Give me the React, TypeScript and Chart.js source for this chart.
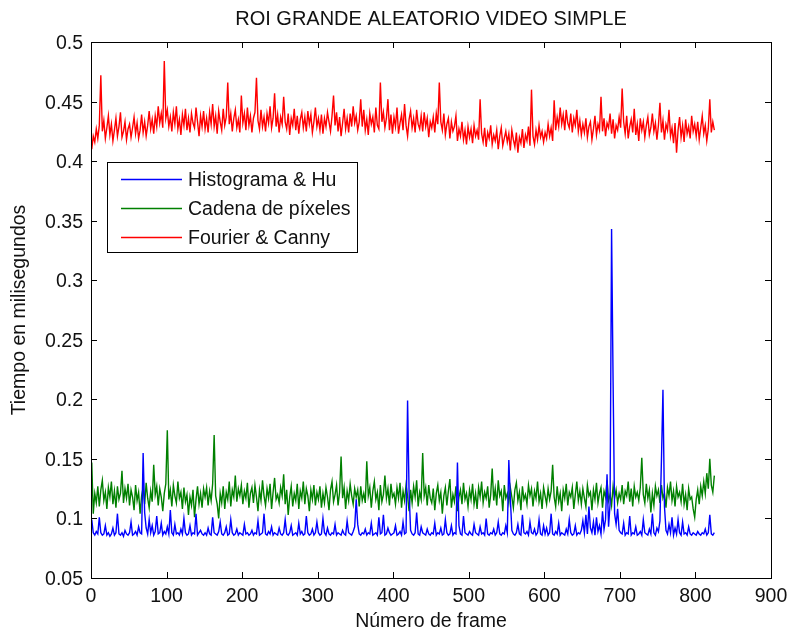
import React, { useEffect, useRef } from "react";
import { Chart, registerables } from "chart.js";

Chart.register(...registerables);

const titleText = "ROI GRANDE ALEATORIO VIDEO SIMPLE";
const xTitle = "Número de frame";
const yTitle = "Tiempo en milisegundos";
const seriesNames = ["Histograma & Hu", "Cadena de píxeles", "Fourier & Canny"];
const seriesColors = ["#0000FF", "#008000", "#FF0000"];

const frames = [
  1,3,5,7,9,11,13,15,17,19,21,23,25,27,29,31,33,35,37,39,41,43,45,47,49,
  51,53,55,57,59,61,63,65,67,69,71,73,75,77,79,81,83,85,87,89,91,93,95,97,99,
  101,103,105,107,109,111,113,115,117,119,121,123,125,127,129,131,133,135,137,139,141,143,145,147,149,
  151,153,155,157,159,161,163,165,167,169,171,173,175,177,179,181,183,185,187,189,191,193,195,197,199,
  201,203,205,207,209,211,213,215,217,219,221,223,225,227,229,231,233,235,237,239,241,243,245,247,249,
  251,253,255,257,259,261,263,265,267,269,271,273,275,277,279,281,283,285,287,289,291,293,295,297,299,
  301,303,305,307,309,311,313,315,317,319,321,323,325,327,329,331,333,335,337,339,341,343,345,347,349,
  351,353,355,357,359,361,363,365,367,369,371,373,375,377,379,381,383,385,387,389,391,393,395,397,399,
  401,403,405,407,409,411,413,415,417,419,421,423,425,427,429,431,433,435,437,439,441,443,445,447,449,
  451,453,455,457,459,461,463,465,467,469,471,473,475,477,479,481,483,485,487,489,491,493,495,497,499,
  501,503,505,507,509,511,513,515,517,519,521,523,525,527,529,531,533,535,537,539,541,543,545,547,549,
  551,553,555,557,559,561,563,565,567,569,571,573,575,577,579,581,583,585,587,589,591,593,595,597,599,
  601,603,605,607,609,611,613,615,617,619,621,623,625,627,629,631,633,635,637,639,641,643,645,647,649,
  651,653,655,657,659,661,663,665,667,669,671,673,675,677,679,681,683,685,687,689,691,693,695,697,699,
  701,703,705,707,709,711,713,715,717,719,721,723,725,727,729,731,733,735,737,739,741,743,745,747,749,
  751,753,755,757,759,761,763,765,767,769,771,773,775,777,779,781,783,785,787,789,791,793,795,797,799,
  801,803,805,807,809,811,813,815,817,819,821,823,825
];

const histogramaHu = [
  .099,.088,.086,.089,.087,.101,.088,.086,.087,.094,.086,.088,.085,.087,.092,.086,.088,.104,.087,.086,.088,.085,.090,.087,.086,
  .088,.097,.086,.087,.089,.086,.093,.088,.087,.155,.105,.092,.087,.099,.088,.094,.086,.089,.102,.087,.088,.096,.086,.089,.087,
  .093,.087,.107,.088,.086,.095,.087,.088,.086,.091,.087,.100,.088,.086,.087,.094,.086,.088,.087,.104,.086,.088,.090,.087,.086,
  .088,.086,.092,.087,.086,.101,.088,.087,.086,.089,.097,.087,.086,.088,.093,.086,.087,.099,.088,.086,.087,.091,.086,.088,.087,
  .086,.095,.087,.088,.086,.087,.090,.086,.088,.087,.098,.086,.087,.088,.104,.087,.086,.089,.087,.093,.086,.088,.087,.086,.092,
  .087,.086,.088,.099,.087,.086,.088,.094,.086,.087,.088,.086,.096,.087,.089,.086,.087,.102,.088,.086,.087,.091,.086,.088,.097,
  .088,.086,.087,.100,.088,.086,.092,.087,.086,.088,.087,.095,.086,.088,.087,.086,.090,.087,.086,.098,.088,.087,.086,.089,.093,
  .116,.095,.087,.086,.088,.087,.091,.086,.088,.087,.096,.086,.087,.088,.086,.101,.087,.088,.103,.086,.087,.092,.088,.086,.087,
  .088,.094,.086,.087,.089,.086,.097,.087,.088,.199,.122,.090,.087,.086,.088,.105,.087,.086,.093,.088,.087,.086,.091,.087,.086,
  .088,.087,.096,.086,.088,.087,.092,.086,.087,.099,.088,.086,.087,.094,.086,.088,.087,.147,.094,.087,.086,.102,.088,.087,.086,
  .089,.087,.086,.095,.088,.087,.086,.093,.087,.088,.086,.100,.087,.086,.088,.087,.091,.086,.088,.097,.087,.086,.088,.087,.094,
  .088,.149,.117,.090,.087,.086,.088,.095,.087,.086,.103,.088,.087,.089,.086,.097,.088,.087,.091,.086,.088,.099,.087,.086,.094,
  .087,.092,.086,.088,.104,.087,.086,.089,.087,.096,.086,.088,.087,.086,.091,.087,.099,.088,.086,.087,.094,.086,.088,.087,.090,
  .098,.088,.103,.087,.110,.092,.088,.097,.086,.101,.089,.094,.087,.106,.091,.099,.137,.093,.112,.343,.215,.104,.095,.108,.090,
  .088,.087,.096,.086,.088,.087,.102,.086,.088,.087,.093,.086,.087,.089,.086,.099,.088,.087,.086,.091,.087,.104,.088,.086,.092,
  .089,.098,.149,.208,.110,.090,.087,.095,.088,.101,.086,.092,.087,.099,.088,.086,.097,.087,.088,.086,.093,.087,.086,.088,.087,
  .086,.089,.087,.086,.088,.087,.091,.086,.088,.103,.087,.086,.088
];

const cadenaPixeles = [
  .147,.104,.121,.113,.127,.110,.124,.132,.115,.122,.108,.126,.118,.131,.112,.123,.109,.127,.116,.121,.140,.113,.125,.117,.129,
  .111,.124,.118,.107,.128,.115,.122,.104,.119,.126,.112,.130,.117,.109,.123,.114,.145,.120,.127,.111,.125,.118,.106,.121,.129,
  .174,.116,.124,.110,.128,.119,.113,.131,.117,.122,.108,.126,.114,.120,.103,.118,.111,.124,.101,.116,.127,.112,.121,.109,.125,
  .118,.126,.111,.123,.115,.129,.170,.119,.112,.100,.121,.113,.127,.108,.122,.116,.131,.110,.124,.118,.136,.114,.125,.119,.128,
  .112,.123,.117,.130,.109,.121,.126,.113,.128,.118,.106,.124,.115,.132,.119,.111,.125,.117,.129,.108,.122,.134,.116,.120,.113,
  .126,.119,.137,.112,.124,.103,.118,.127,.110,.121,.115,.129,.108,.123,.117,.131,.112,.125,.119,.106,.124,.116,.128,.111,.122,
  .116,.127,.109,.121,.113,.126,.118,.107,.124,.131,.114,.120,.128,.111,.122,.152,.117,.126,.108,.123,.115,.129,.119,.112,.125,
  .118,.124,.110,.127,.115,.121,.113,.148,.119,.126,.109,.123,.131,.116,.122,.107,.128,.114,.120,.136,.117,.125,.111,.129,.118,
  .121,.112,.126,.117,.130,.109,.123,.115,.128,.119,.106,.124,.113,.127,.118,.132,.110,.122,.116,.155,.119,.126,.111,.128,.117,
  .113,.125,.107,.121,.128,.115,.122,.104,.119,.126,.111,.123,.133,.109,.120,.114,.127,.106,.118,.124,.112,.130,.116,.121,.110,
  .124,.116,.129,.112,.121,.108,.126,.118,.131,.113,.122,.117,.127,.109,.120,.142,.115,.125,.111,.132,.119,.123,.106,.128,.117,
  .121,.113,.126,.118,.109,.124,.130,.115,.122,.107,.127,.116,.120,.112,.128,.119,.125,.110,.123,.117,.131,.114,.121,.108,.126,
  .119,.112,.125,.116,.123,.145,.118,.110,.127,.114,.121,.106,.124,.117,.129,.111,.122,.118,.126,.108,.120,.131,.115,.123,.112,
  .125,.117,.110,.128,.119,.122,.107,.124,.116,.130,.113,.121,.126,.109,.123,.118,.132,.115,.120,.111,.127,.117,.124,.113,.121,
  .116,.128,.112,.123,.119,.131,.114,.125,.110,.127,.118,.122,.115,.126,.151,.120,.113,.129,.117,.124,.105,.121,.111,.127,.119,
  .124,.113,.128,.117,.121,.109,.126,.119,.131,.115,.123,.110,.127,.118,.122,.114,.129,.112,.120,.107,.125,.116,.118,.108,.101,
  .116,.124,.112,.127,.119,.131,.121,.138,.125,.150,.128,.122,.136
];

const fourierCanny = [
  .410,.421,.416,.427,.419,.430,.472,.425,.434,.419,.428,.438,.422,.431,.417,.426,.436,.421,.429,.441,.420,.425,.433,.418,.427,
  .431,.420,.428,.437,.423,.432,.419,.426,.439,.424,.433,.421,.430,.442,.427,.435,.423,.438,.429,.446,.432,.440,.428,.484,.436,
  .443,.429,.437,.425,.441,.431,.446,.427,.435,.422,.439,.430,.444,.426,.436,.424,.440,.432,.428,.445,.433,.421,.438,.429,.442,
  .427,.436,.424,.441,.431,.448,.429,.438,.423,.442,.433,.426,.444,.430,.437,.466,.431,.440,.425,.436,.443,.428,.435,.424,.455,
  .432,.440,.426,.445,.430,.438,.424,.436,.441,.470,.434,.427,.443,.429,.437,.425,.440,.432,.446,.428,.436,.457,.429,.439,.424,
  .437,.431,.454,.433,.427,.440,.422,.436,.430,.444,.426,.438,.423,.435,.441,.428,.437,.425,.442,.431,.439,.424,.433,.445,.429,
  .436,.426,.439,.423,.436,.429,.441,.433,.425,.438,.455,.430,.441,.425,.437,.421,.432,.444,.427,.436,.424,.440,.429,.446,.432,
  .438,.426,.433,.452,.429,.443,.426,.435,.422,.440,.431,.437,.424,.445,.430,.427,.466,.433,.441,.428,.436,.452,.426,.439,.423,
  .437,.429,.445,.423,.432,.439,.426,.448,.430,.421,.435,.442,.428,.436,.424,.443,.431,.427,.438,.425,.441,.429,.436,.420,.433,
  .428,.437,.424,.440,.431,.466,.433,.426,.440,.422,.431,.436,.419,.433,.425,.429,.438,.417,.427,.421,.433,.418,.426,.414,.429,
  .420,.427,.415,.430,.421,.426,.418,.452,.423,.416,.428,.412,.424,.419,.430,.414,.422,.417,.426,.410,.421,.428,.413,.419,.425,
  .416,.423,.409,.426,.418,.412,.424,.407,.420,.415,.427,.411,.422,.417,.429,.413,.460,.421,.414,.426,.418,.430,.420,.425,.416,
  .424,.419,.431,.421,.428,.417,.451,.426,.437,.429,.445,.431,.439,.426,.443,.432,.428,.440,.424,.436,.430,.443,.425,.434,.422,
  .431,.424,.436,.420,.429,.433,.418,.427,.438,.422,.431,.426,.454,.425,.436,.421,.432,.428,.440,.423,.435,.419,.430,.426,.437,
  .428,.461,.433,.423,.438,.419,.429,.435,.424,.444,.422,.431,.417,.436,.426,.433,.420,.430,.437,.422,.428,.440,.425,.432,.418,
  .430,.449,.424,.434,.418,.431,.426,.443,.421,.428,.415,.432,.407,.426,.437,.420,.430,.416,.435,.423,.429,.419,.438,.425,.431,
  .421,.433,.418,.428,.438,.423,.430,.417,.427,.452,.424,.433,.426
];

const seriesValues = [histogramaHu, cadenaPixeles, fourierCanny];

const FONT = "'Liberation Sans', Arial, sans-serif";
const TEXT = "#111111";

const matlabPlugin = {
  id: "matlabDecor",
  afterDraw(chart: any) {
    const ctx = chart.ctx;
    const { left, right, top, bottom } = chart.chartArea;
    const xs = chart.scales.x;
    const ys = chart.scales.y;
    ctx.save();
    ctx.strokeStyle = "#000";
    ctx.lineWidth = 1;
    ctx.strokeRect(Math.round(left) + 0.5, Math.round(top) + 0.5, Math.round(right - left), Math.round(bottom - top));
    const tl = 6;
    ctx.beginPath();
    xs.ticks.forEach((t: any) => {
      const px = Math.round(xs.getPixelForValue(t.value)) + 0.5;
      ctx.moveTo(px, bottom);
      ctx.lineTo(px, bottom - tl);
      ctx.moveTo(px, top);
      ctx.lineTo(px, top + tl);
    });
    ys.ticks.forEach((t: any) => {
      const py = Math.round(ys.getPixelForValue(t.value)) + 0.5;
      ctx.moveTo(left, py);
      ctx.lineTo(left + tl, py);
      ctx.moveTo(right, py);
      ctx.lineTo(right - tl, py);
    });
    ctx.stroke();

    ctx.fillStyle = TEXT;
    ctx.font = `19.5px ${FONT}`;
    ctx.textAlign = "center";
    ctx.textBaseline = "alphabetic";
    xs.ticks.forEach((t: any) => {
      ctx.fillText(String(t.value), xs.getPixelForValue(t.value), bottom + 24);
    });
    ctx.textAlign = "right";
    ys.ticks.forEach((t: any) => {
      const label = parseFloat(Number(t.value).toFixed(2)).toString();
      ctx.fillText(label, left - 8, ys.getPixelForValue(t.value) + 7);
    });

    ctx.textAlign = "center";
    ctx.font = `20px ${FONT}`;
    ctx.fillText(titleText, (left + right) / 2, 25);

    ctx.font = `19.5px ${FONT}`;
    ctx.fillText(xTitle, (left + right) / 2, 627);
    ctx.save();
    ctx.translate(25, (top + bottom) / 2);
    ctx.rotate(-Math.PI / 2);
    ctx.fillText(yTitle, 0, 0);
    ctx.restore();

    const lx = 107.5, ly = 162.5, lw = 250, lh = 90;
    ctx.fillStyle = "#fff";
    ctx.fillRect(lx, ly, lw, lh);
    ctx.strokeStyle = "#000";
    ctx.lineWidth = 1;
    ctx.strokeRect(lx, ly, lw, lh);
    const rows = [179, 208, 237];
    ctx.textAlign = "left";
    ctx.font = `19.5px ${FONT}`;
    seriesNames.forEach((name, i) => {
      ctx.strokeStyle = seriesColors[i];
      ctx.lineWidth = 1.5;
      ctx.beginPath();
      ctx.moveTo(121, rows[i] + 0.5);
      ctx.lineTo(182, rows[i] + 0.5);
      ctx.stroke();
      ctx.fillStyle = TEXT;
      ctx.fillText(name, 188, rows[i] + 7);
    });
    ctx.restore();
  },
};

export default function App() {
  const ref = useRef<HTMLCanvasElement | null>(null);
  useEffect(() => {
    document.body.style.margin = "0";
    const canvas = ref.current;
    if (!canvas) return;
    const chart = new Chart(canvas, {
      type: "line",
      data: {
        datasets: seriesValues.map((vals, si) => ({
          label: seriesNames[si],
          data: frames.map((f, i) => ({ x: f, y: vals[i] })),
          borderColor: seriesColors[si],
          backgroundColor: seriesColors[si],
          borderWidth: 1.4,
          pointRadius: 0,
          tension: 0,
          fill: false,
        })),
      },
      options: {
        responsive: false,
        animation: false,
        events: [],
        layout: { padding: { top: 42, right: 19, left: 0, bottom: 0 } },
        plugins: {
          legend: { display: false },
          title: { display: false },
          tooltip: { enabled: false },
        },
        scales: {
          x: {
            type: "linear",
            min: 0,
            max: 900,
            ticks: { display: false, stepSize: 100 },
            grid: { display: false },
            border: { display: false },
            afterFit: (s: any) => { s.height = 57; },
          },
          y: {
            type: "linear",
            min: 0.05,
            max: 0.5,
            ticks: { display: false, stepSize: 0.05 },
            grid: { display: false },
            border: { display: false },
            afterFit: (s: any) => { s.width = 91; },
          },
        },
      },
      plugins: [matlabPlugin],
    });
    return () => chart.destroy();
  }, []);
  return (
    <div style={{ width: 790, height: 635, background: "#fff" }}>
      <canvas ref={ref} width={790} height={635} style={{ display: "block" }} />
    </div>
  );
}
